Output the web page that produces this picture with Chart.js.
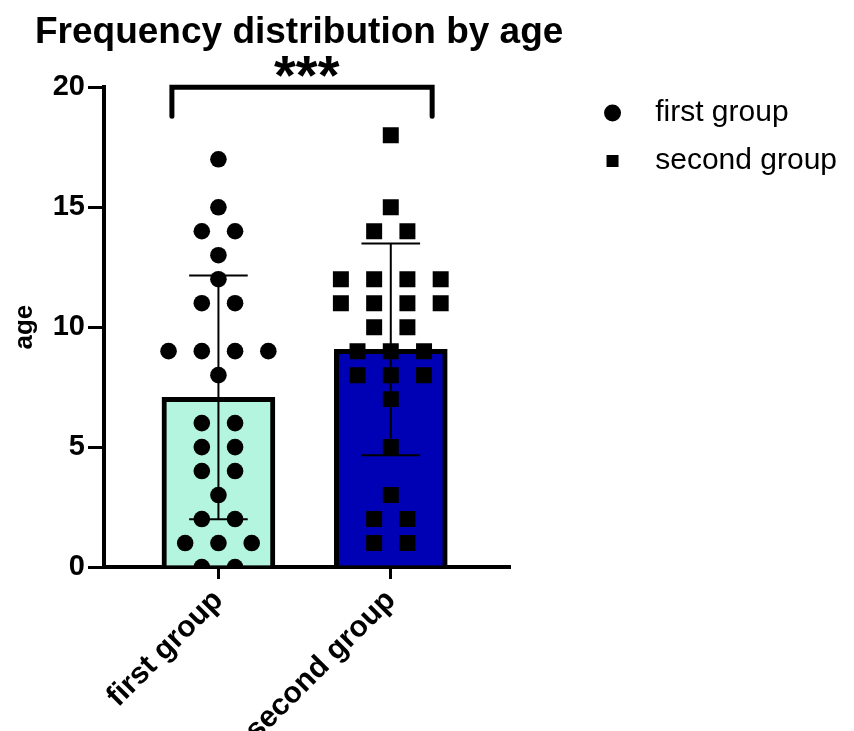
<!DOCTYPE html>
<html>
<head>
<meta charset="utf-8">
<script src="https://cdn.jsdelivr.net/npm/chart.js@4.4.1/dist/chart.umd.min.js"></script>
<style>
    html, body { margin: 0; padding: 0; background: #fff; }
    #wrap { width: 854px; height: 731px; }
</style>
</head>
<body>
<div id="wrap"><canvas id="ageChart"></canvas></div>
<script>
// data
const groups = ['first group', 'second group'];
const firstAges = [17, 15, 14, 14, 13, 12, 11, 11, 9, 9, 9, 9, 8, 6, 6, 5, 5, 4, 4, 3, 2, 2, 1, 1, 1, 0, 0];
const secondAges = [18, 15, 14, 14, 12, 12, 12, 12, 11, 11, 11, 11, 10, 10, 9, 9, 9, 8, 8, 8, 7, 5, 3, 2, 2, 1, 1];
const yTicks = [0, 5, 10, 15, 20];
const significance = '***';

const barColors = ['#b3f5de', '#0000b4'];
const FONT = "'Liberation Sans', Arial, sans-serif";
const JITTER = 0.193;   // horizontal gap between dots of the same value (x units)
const CAP = 0.17;       // half width of the error bar caps (x units)

function mean(arr) {
    return arr.reduce((a, b) => a + b, 0) / arr.length;
}

function sd(arr) {
    const m = mean(arr);
    return Math.sqrt(arr.reduce((a, b) => a + (b - m) * (b - m), 0) / (arr.length - 1));
}

// spread equal values side by side around the group centre
function spread(arr, centre) {
    const counts = {};
    arr.forEach(v => counts[v] = (counts[v] || 0) + 1);
    const seen = {};
    return arr.map(v => {
        const i = seen[v] || 0;
        seen[v] = i + 1;
        return { x: centre + (i - (counts[v] - 1) / 2) * JITTER, y: v };
    });
}

const allGroups = [firstAges, secondAges];
const means = allGroups.map(mean);
const sds = allGroups.map(sd);

const errorBars = {
    id: 'errorBars',
    afterDatasetDraw(chart, args) {
        if (args.index !== 0) return;
        const ctx = chart.ctx, x = chart.scales.x, y = chart.scales.y;
        ctx.save();
        ctx.strokeStyle = '#000';
        ctx.lineWidth = 2;
        means.forEach(function(m, i) {
            const top = y.getPixelForValue(m + sds[i]);
            const bot = y.getPixelForValue(m - sds[i]);
            const cx = x.getPixelForValue(i);
            ctx.beginPath();
            ctx.moveTo(cx, top);
            ctx.lineTo(cx, bot);
            ctx.moveTo(x.getPixelForValue(i - CAP), top);
            ctx.lineTo(x.getPixelForValue(i + CAP), top);
            ctx.moveTo(x.getPixelForValue(i - CAP), bot);
            ctx.lineTo(x.getPixelForValue(i + CAP), bot);
            ctx.stroke();
        });
        ctx.restore();
    }
};

const bracket = {
    id: 'bracket',
    afterDraw(chart) {
        const ctx = chart.ctx, x = chart.scales.x, y = chart.scales.y;
        const x1 = x.getPixelForValue(-0.27), x2 = x.getPixelForValue(1.24);
        const top = y.getPixelForValue(20), end = y.getPixelForValue(18.8);
        ctx.save();
        ctx.strokeStyle = '#000';
        ctx.lineWidth = 5;
        ctx.lineCap = 'round';
        ctx.beginPath();
        ctx.moveTo(x1, end);
        ctx.lineTo(x1, top);
        ctx.lineTo(x2, top);
        ctx.lineTo(x2, end);
        ctx.stroke();
        ctx.restore();
    }
};

const ctx = document.getElementById('ageChart').getContext('2d');
const ageChart = new Chart(ctx, {
    type: 'bar',
    data: {
        datasets: [{
            label: 'mean',
            data: means.map((m, i) => ({ x: i, y: m })),
            backgroundColor: barColors,
            borderColor: '#000',
            borderWidth: 5,
            barThickness: 113,
            order: 2,
        }, {
            type: 'scatter',
            label: groups[0],
            data: spread(firstAges, 0),
            pointStyle: 'circle',
            pointRadius: 8.3,
            backgroundColor: '#000',
            borderWidth: 0,
            clip: 0,
            order: 0,
        }, {
            type: 'scatter',
            label: groups[1],
            data: spread(secondAges, 1),
            pointStyle: 'rect',
            pointRadius: 11.3,
            backgroundColor: '#000',
            borderWidth: 0,
            clip: 0,
            order: 0,
        }],
    },
    options: {
        responsive: true,
        maintainAspectRatio: false,
        animation: false,
        layout: { padding: { left: 35, right: 7, top: 0, bottom: 0 } },
        plugins: {
            tooltip: { enabled: false },
            title: {
                display: true,
                text: 'Frequency distribution by age',
                fullSize: true,
                align: 'start',
                color: '#000',
                font: { family: FONT, size: 37, weight: 'bold' },
                padding: { top: 10.5, bottom: 0 },
            },
            subtitle: {
                display: true,
                text: significance,
                fullSize: false,
                color: '#000',
                font: { family: FONT, size: 56, weight: 'bold', lineHeight: 0.36 },
                padding: { top: 13.5, bottom: -1.2 },
            },
            legend: {
                position: 'right',
                align: 'start',
                maxWidth: 400,
                title: { display: true, text: ' ', font: { size: 10 }, padding: { top: 68, bottom: 0 } },
                labels: {
                    usePointStyle: true,
                    boxWidth: 22,
                    boxHeight: 12,
                    padding: 18,
                    color: '#000',
                    font: { family: FONT, size: 30 },
                    filter: (item) => item.datasetIndex > 0,
                    generateLabels(chart) {
                        return Chart.defaults.plugins.legend.labels.generateLabels(chart)
                            .map(item => Object.assign(item, { text: '  ' + item.text }));
                    },
                },
            },
        },
        scales: {
            x: {
                type: 'linear',
                min: -0.664,
                max: 1.689,
                offset: false,
                z: 1,
                afterBuildTicks: (scale) => { scale.ticks = groups.map((g, i) => ({ value: i })); },
                afterFit: (scale) => { scale.height = 164; },
                ticks: {
                    callback: (v) => groups[v],
                    color: '#000',
                    font: { family: FONT, size: 30, weight: 'bold' },
                    minRotation: 45,
                    maxRotation: 45,
                    padding: 4,
                },
                grid: { offset: false, drawOnChartArea: false, tickLength: 12, lineWidth: 3, color: '#000' },
                border: { color: '#000', width: 4 },
            },
            y: {
                min: 0,
                max: 20,
                z: 1,
                afterBuildTicks: (scale) => { scale.ticks = yTicks.map(v => ({ value: v })); },
                afterFit: (scale) => { scale.width = 69; },
                ticks: {
                    color: '#000',
                    font: { family: FONT, size: 29, weight: 'bold' },
                    padding: 3,
                },
                grid: { drawOnChartArea: false, tickLength: 16, lineWidth: 3, color: '#000' },
                border: { color: '#000', width: 4 },
                title: {
                    display: true,
                    text: 'age',
                    color: '#000',
                    font: { family: FONT, size: 26, weight: 'bold' },
                    padding: { top: -25.6, bottom: 0 },
                },
            },
            gap: {
                type: 'linear',
                axis: 'y',
                position: 'right',
                grid: { display: false },
                border: { display: false },
                ticks: { display: false },
                afterFit: (scale) => { scale.width = 74; },
            },
        },
    },
    plugins: [errorBars, bracket],
});
</script>
</body>
</html>
